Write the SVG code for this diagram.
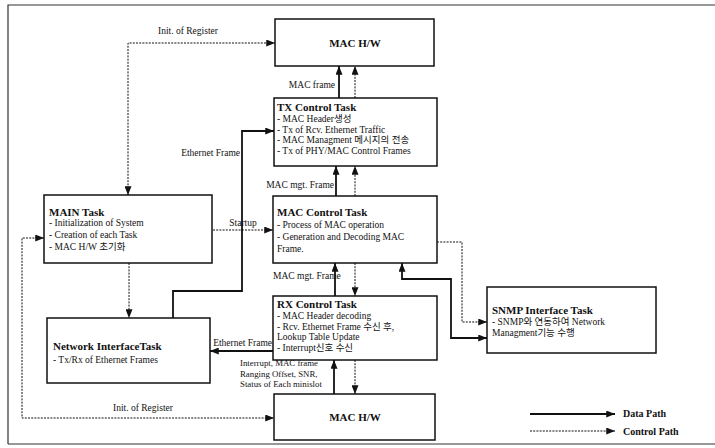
<svg xmlns="http://www.w3.org/2000/svg" width="715" height="448" viewBox="0 0 715 448">
<style>
text{font-family:"Liberation Serif","Noto Sans CJK KR",serif;fill:#111}
.t{font-size:11px;font-weight:bold}
.b{font-size:9.5px}
.l{font-size:9.5px}
.s{font-size:8.8px}
.lg{font-size:10px;font-weight:bold}
.box{fill:#fff;stroke:#111;stroke-width:1.5}
.d{fill:none;stroke:#111;stroke-width:1.8}
.c{fill:none;stroke:#111;stroke-width:1;stroke-dasharray:2 1.2}
.frame{stroke:#333;stroke-width:1.2;fill:none}
</style>
<defs>
<marker id="ah" viewBox="0 0 10 8" refX="10" refY="4" markerWidth="10" markerHeight="7" markerUnits="userSpaceOnUse" orient="auto-start-reverse"><path d="M0,0 L10,4 L0,8 Z" fill="#111"/></marker>
</defs>
<path class="frame" d="M8,444 V5 H715 M8,444 H715"/>
<g id="mac-hw-top"><rect class="box" x="275" y="19" width="159" height="47"/><text class="t" x="355" y="47" text-anchor="middle">MAC H/W</text></g>
<g id="tx-control"><rect class="box" x="274" y="98" width="163" height="68"/>
<text class="t" x="277" y="111">TX Control Task</text>
<text class="b" x="277" y="122">- MAC Header생성</text>
<text class="b" x="277" y="133">- Tx of  Rcv. Ethernet Traffic</text>
<text class="b" x="277" y="143">- MAC Managment 메시지의 전송</text>
<text class="b" x="277" y="154">- Tx of PHY/MAC Control Frames</text></g>
<g id="mac-control"><rect class="box" x="273" y="196" width="164" height="67"/>
<text class="t" x="277" y="216">MAC Control Task</text>
<text class="b" x="277" y="228">- Process of MAC operation</text>
<text class="b" x="277" y="240">- Generation and Decoding MAC</text>
<text class="b" x="277" y="252">Frame.</text></g>
<g id="rx-control"><rect class="box" x="273" y="296" width="164" height="64"/>
<text class="t" x="277" y="308">RX Control Task</text>
<text class="b" x="277" y="319">- MAC Header decoding</text>
<text class="b" x="277" y="330">- Rcv. Ethernet Frame 수신 후,</text>
<text class="b" x="277" y="340">Lookup Table Update</text>
<text class="b" x="277" y="351">- Interrupt신호 수신</text></g>
<g id="mac-hw-bottom"><rect class="box" x="274" y="394" width="161" height="46"/><text class="t" x="355" y="421" text-anchor="middle">MAC H/W</text></g>
<g id="main-task"><rect class="box" x="44" y="195" width="168" height="68"/>
<text class="t" x="49" y="216">MAIN Task</text>
<text class="b" x="49" y="226">- Initialization of System</text>
<text class="b" x="49" y="238">- Creation of each Task</text>
<text class="b" x="49" y="250">- MAC H/W 초기화</text></g>
<g id="network-interface"><rect class="box" x="47" y="318" width="163" height="65"/>
<text class="t" x="53" y="350">Network InterfaceTask</text>
<text class="b" x="53" y="363">- Tx/Rx of Ethernet Frames</text></g>
<g id="snmp"><rect class="box" x="487" y="287" width="169" height="66"/>
<text class="t" x="492" y="314">SNMP Interface Task</text>
<text class="b" x="492" y="325">- SNMP와 연동하여 Network</text>
<text class="b" x="492" y="336">Managment기능 수행</text></g>
<g id="connectors">
<path class="d" d="M339,98 V66" marker-end="url(#ah)"/>
<path class="c" d="M355,98 V66" marker-end="url(#ah)"/>
<path class="d" d="M336,196 V166" marker-end="url(#ah)"/>
<path class="c" d="M355,196 V166" marker-end="url(#ah)"/>
<path class="d" d="M335,296 V263" marker-end="url(#ah)"/>
<path class="c" d="M355,263 V296" marker-end="url(#ah)"/>
<path class="d" d="M334,394 V360" marker-end="url(#ah)"/>
<path class="c" d="M355,360 V394" marker-end="url(#ah)"/>
<path class="d" d="M173,318 V291 H242 V131 H274" marker-end="url(#ah)"/>
<path class="d" d="M273,351 H210" marker-end="url(#ah)"/>
<path class="d" d="M402,263 V279 H451 V338 H487" marker-start="url(#ah)" marker-end="url(#ah)"/>
<path class="c" d="M128,195 V43 H275" marker-start="url(#ah)" marker-end="url(#ah)"/>
<path class="c" d="M44,238 H22 V418 H274" marker-start="url(#ah)" marker-end="url(#ah)"/>
<path class="c" d="M213,230 H273" marker-end="url(#ah)"/>
<path class="c" d="M129,263 V318" marker-end="url(#ah)"/>
<path class="c" d="M437,242 H462 V322 H487" marker-end="url(#ah)"/>
<text class="l" x="188" y="34" text-anchor="middle">Init. of Register</text>
<text class="l" x="143" y="411" text-anchor="middle">Init. of Register</text>
<text class="l" x="335" y="88" text-anchor="end">MAC frame</text>
<text class="l" x="240" y="156" text-anchor="end">Ethernet Frame</text>
<text class="l" x="334" y="188" text-anchor="end">MAC mgt. Frame</text>
<text class="l" x="243" y="226" text-anchor="middle">Startup</text>
<text class="l" x="273" y="279">MAC mgt. Frame</text>
<text class="l" x="272" y="346" text-anchor="end">Ethernet Frame</text>
<text class="s" x="240" y="366">Interrupt, MAC frame</text>
<text class="s" x="240" y="377">Ranging Offset,  SNR,</text>
<text class="s" x="240" y="387">Status of Each minislot</text>
</g>
<g id="legend">
<path class="d" d="M530,414 H615" marker-end="url(#ah)"/>
<path class="c" d="M530,431 H615" marker-end="url(#ah)"/>
<text class="lg" x="623" y="417">Data Path</text>
<text class="lg" x="623" y="435">Control Path</text>
</g>
</svg>
